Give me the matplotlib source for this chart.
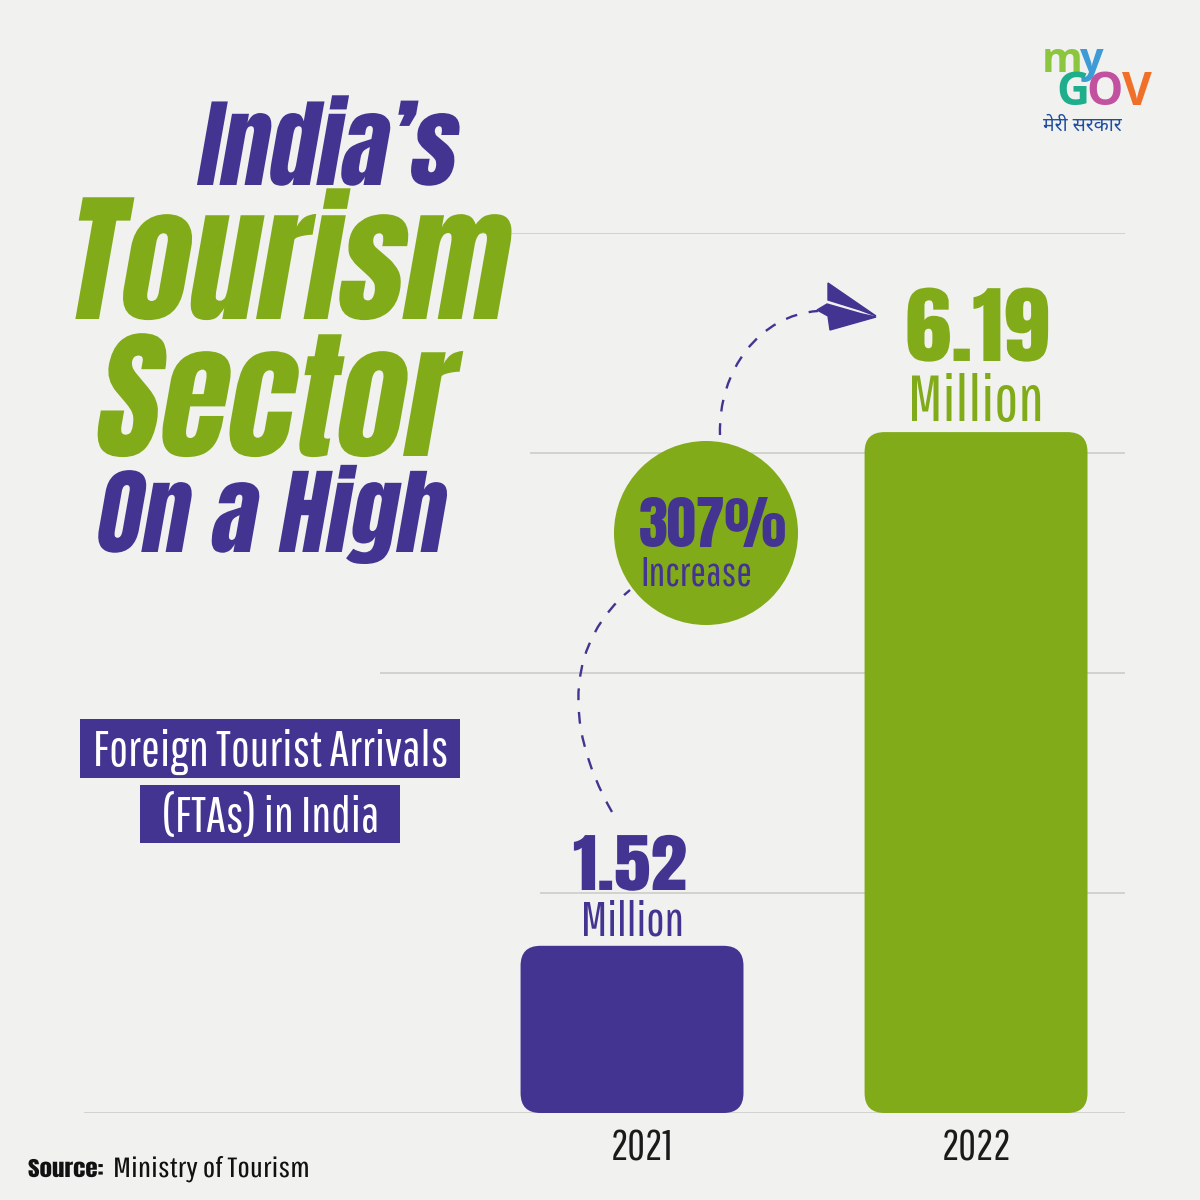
import matplotlib
matplotlib.use("Agg")
import matplotlib.pyplot as plt
from matplotlib.patches import FancyBboxPatch, Circle, Rectangle, PathPatch, Polygon
from matplotlib.path import Path
from matplotlib.patheffects import AbstractPathEffect
from matplotlib.transforms import Affine2D

years = ["2021", "2022"]
arrivals = [1.52, 6.19]
bar_colors = ["#433491", "#82AB1A"]
grid_values = [0, 2, 4, 6, 8]
grid_starts = [84, 540, 380, 530, 460]  # pixel where each line fades in

PURPLE = "#433491"
GREEN = "#82AB1A"
BG = "#F1F1EF"
THIN = ["Pathway Gothic One", "Liberation Sans Narrow", "DejaVu Sans"]
BOLD = ["Anton", "Liberation Sans Narrow", "DejaVu Sans"]


class Shape(AbstractPathEffect):
    # widen and slant glyphs about the start of the baseline, no such fonts here
    def __init__(self, sx=1.0, slant=0):
        super().__init__()
        self.t = Affine2D().scale(sx, 1).skew_deg(slant, 0)

    def draw_path(self, renderer, gc, tpath, affine, rgbFace):
        renderer.draw_path(gc, tpath, self.t + affine, rgbFace)


fig = plt.figure(figsize=(12, 12), dpi=100, facecolor=BG)

# chart axes, 0 at y=1113px and 8 at y=233px
ax = fig.add_axes([84 / 1200, (1200 - 1113) / 1200, (1125 - 84) / 1200, 880 / 1200])
ax.set_xlim(-1.593, 1.433)
ax.set_ylim(0, 8)
ax.patch.set_alpha(0)
for s in ax.spines.values():
    s.set_visible(False)
ax.set_yticks([])
ax.set_xticks([0.03, 1])
ax.set_xticklabels(years, family=THIN, fontsize=31, color="#1a1a1a")
ax.tick_params(axis="x", length=0, pad=11)

for v, start in zip(grid_values, grid_starts):
    ax.hlines(v, -1.593 + (start - 84) / 344, 1.433, color="#c9c9c7", lw=1.1, zorder=1)

# px per unit: x 344, y 110
bar_w = 0.648
for i, v in enumerate(arrivals):
    bar = FancyBboxPatch((i - bar_w / 2, 0), bar_w, v,
                         boxstyle="round,pad=0,rounding_size=0.058",
                         mutation_aspect=344 / 110,
                         fc=bar_colors[i], ec="none", zorder=3)
    ax.add_patch(bar)

# overlay in pixel coordinates for the poster text
ov = fig.add_axes([0, 0, 1, 1])
ov.set_xlim(0, 1200)
ov.set_ylim(1200, 0)
ov.axis("off")
ov.patch.set_alpha(0)

heavy = dict(family=BOLD, va="baseline", ha="left")
ov.text(194, 185, "India\u2019s", color=PURPLE, fontsize=70, path_effects=[Shape(1.0, 10)], **heavy)
ov.text(60, 319, "Tourism", color=GREEN, fontsize=102, path_effects=[Shape(0.97, 10)], **heavy)
ov.text(90, 456, "Sector", color=GREEN, fontsize=102, path_effects=[Shape(0.97, 10)], **heavy)
ov.text(92, 552, "On a High", color=PURPLE, fontsize=68, path_effects=[Shape(1.0, 10)], **heavy)

ov.add_patch(Rectangle((80, 719), 380, 59, fc=PURPLE, ec="none"))
ov.add_patch(Rectangle((140, 785), 260, 58, fc=PURPLE, ec="none"))
ov.text(271, 766, "Foreign Tourist Arrivals", color="white", family=THIN, fontsize=36, ha="center", va="baseline")
ov.text(271, 832, "(FTAs) in India", color="white", family=THIN, fontsize=36, ha="center", va="baseline")

ov.text(573, 890, "1.52", color=PURPLE, family=BOLD, fontsize=46, ha="left", va="baseline", path_effects=[Shape(1.15)])
ov.text(632, 936, "Million", color=PURPLE, family=THIN, fontsize=35, ha="center", va="baseline")
ov.text(905, 361, "6.19", color=GREEN, family=BOLD, fontsize=61, ha="left", va="baseline", path_effects=[Shape(1.1)])
ov.text(976, 421, "Million", color=GREEN, family=THIN, fontsize=46, ha="center", va="baseline")

ov.add_patch(Circle((706, 533), 92, fc=GREEN, ec="none", zorder=4))
ov.text(713, 547, "307%", color=PURPLE, family=BOLD, fontsize=42, ha="center", va="baseline", zorder=5)
ov.text(696, 586, "Increase", color=PURPLE, family=THIN, fontsize=30, ha="center", va="baseline", zorder=5)

# dashed curves and the paper plane
for pts in ([(612, 812), (560, 720), (570, 640), (630, 590)],
            [(720, 435), (718, 370), (760, 315), (818, 311)]):
    curve = Path(pts, [Path.MOVETO, Path.CURVE4, Path.CURVE4, Path.CURVE4])
    ov.add_patch(PathPatch(curve, fc="none", ec=PURPLE, lw=1.7, ls=(0, (5, 5)), zorder=2))
ov.add_patch(Polygon([(828, 283), (876, 316), (860, 310), (828, 300)], fc=PURPLE, ec=PURPLE, lw=1, zorder=3))
ov.add_patch(Polygon([(817, 310), (827, 304), (862, 314), (876, 317), (830, 330), (828, 316)], fc=PURPLE, ec=PURPLE, lw=1, zorder=3))

# logo
logo = dict(family="Open Sans", weight="bold", va="baseline", ha="left")
ov.text(1042, 72, "m", color="#8CC63F", fontsize=30, **logo)
ov.text(1079, 72, "y", color="#3F9BD5", fontsize=30, **logo)
ov.text(1056, 105, "G", color="#1FAE8C", fontsize=33, **logo)
ov.text(1086, 105, "O", color="#C2529F", fontsize=33, **logo)
ov.text(1122, 105, "V", color="#F0702A", fontsize=33, **logo)
ov.text(1043, 131, "मेरी सरकार", color="#1F4E9E", family=["Noto Sans", "DejaVu Sans"], fontsize=14, va="baseline", ha="left")

ov.text(28, 1177, "Source:", color="#111111", family=BOLD, fontsize=15, va="baseline", path_effects=[Shape(1.2)])
ov.text(113, 1177, "Ministry of Tourism", color="#111111", family=THIN, fontsize=20, va="baseline", path_effects=[Shape(1.2)])

fig.savefig("out.png", dpi=100, facecolor=BG)
